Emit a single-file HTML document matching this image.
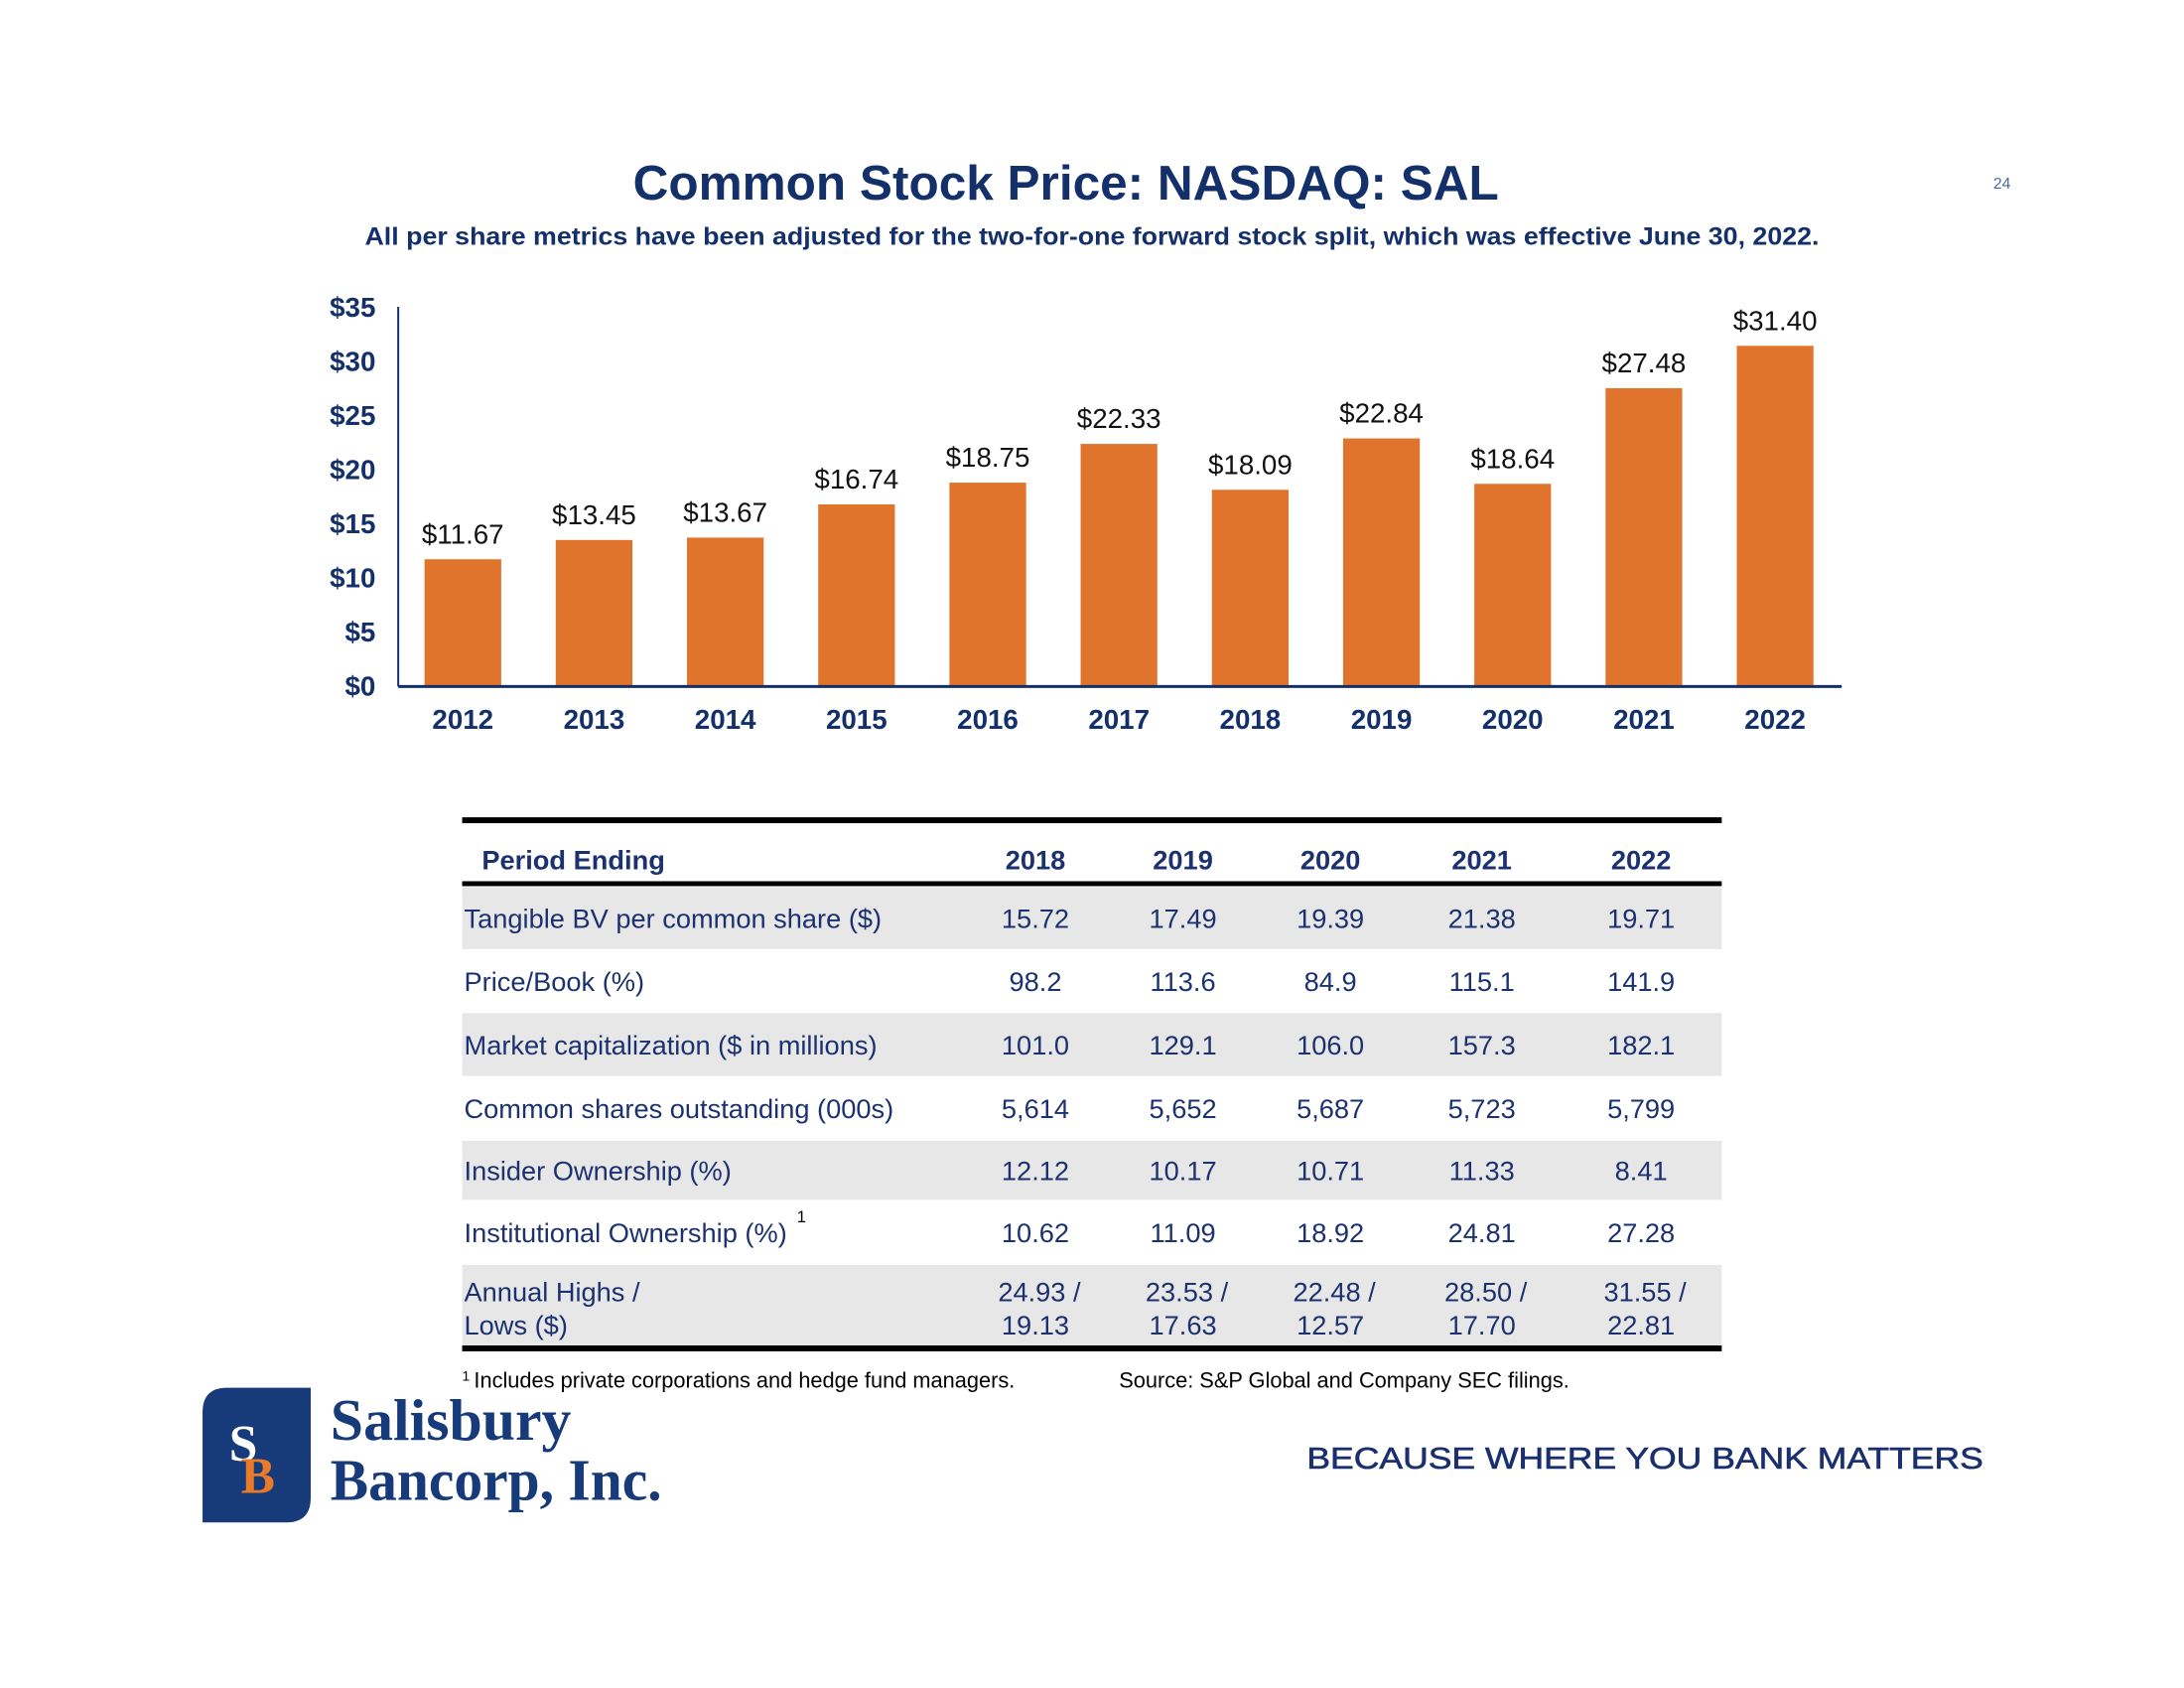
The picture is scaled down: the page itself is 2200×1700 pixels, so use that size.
<!DOCTYPE html>
<html><head><meta charset="utf-8"><style>
html,body{margin:0;padding:0;background:#fff;}
svg{display:block;font-family:"Liberation Sans",Arial,sans-serif;}
</style></head><body>
<svg id="page" width="2200" height="1700" viewBox="0 0 2200 1700">
<g transform="scale(0.9905)">
<text x="1084" y="203" text-anchor="middle" font-size="50" font-weight="bold" fill="#14306b">Common Stock Price: NASDAQ: SAL</text>
<text x="2036" y="192" text-anchor="middle" font-size="16" fill="#4a6aa8">24</text>
<text x="371" y="249" textLength="1479" lengthAdjust="spacingAndGlyphs" font-size="25" font-weight="bold" fill="#14306b">All per share metrics have been adjusted for the two-for-one forward stock split, which was effective June 30, 2022.</text>
<g id="chart"></g>
<g id="table"></g>
<text x="470" y="1404" font-size="14" fill="#000">1</text>
<text x="482" y="1411" font-size="22" fill="#000">Includes private corporations and hedge fund managers.</text>
<text x="1138" y="1411" font-size="22" fill="#000">Source: S&amp;P Global and Company SEC filings.</text>
<g transform="translate(3,13)">
<path d="M228 1398 H313 V1510 Q313 1535 288 1535 H203 V1423 Q203 1398 228 1398 Z" fill="#173a7a"/>
<text x="230" y="1472" font-family="Liberation Serif,serif" font-weight="bold" font-size="52" fill="#fff">S</text>
<text x="242" y="1505" font-family="Liberation Serif,serif" font-weight="bold" font-size="52" fill="#e87a2a">B</text>
<text x="333" y="1451" font-family="Liberation Serif,serif" font-weight="bold" font-size="60" fill="#173a7a" textLength="245" lengthAdjust="spacingAndGlyphs">Salisbury</text>
<text x="333" y="1512" font-family="Liberation Serif,serif" font-weight="bold" font-size="60" fill="#173a7a" textLength="337" lengthAdjust="spacingAndGlyphs">Bancorp, Inc.</text>
</g>
<text x="1329" y="1493" font-size="31" fill="#1a2f6e" stroke="#1a2f6e" stroke-width="0.6" textLength="688" lengthAdjust="spacingAndGlyphs">BECAUSE WHERE YOU BANK MATTERS</text>
</g>
</svg>
<script>
const years = ["2012","2013","2014","2015","2016","2017","2018","2019","2020","2021","2022"];
const prices = [11.67,13.45,13.67,16.74,18.75,22.33,18.09,22.84,18.64,27.48,31.40];
const priceLabels = ["$11.67","$13.45","$13.67","$16.74","$18.75","$22.33","$18.09","$22.84","$18.64","$27.48","$31.40"];
const yTicks = [0,5,10,15,20,25,30,35];
const tableYears = ["2018","2019","2020","2021","2022"];
const rowLabels = ["Tangible BV per common share ($)","Price/Book (%)","Market capitalization ($ in millions)","Common shares outstanding (000s)","Insider Ownership (%)","Institutional Ownership (%)"];
const rowValues = [
 ["15.72","17.49","19.39","21.38","19.71"],
 ["98.2","113.6","84.9","115.1","141.9"],
 ["101.0","129.1","106.0","157.3","182.1"],
 ["5,614","5,652","5,687","5,723","5,799"],
 ["12.12","10.17","10.71","11.33","8.41"],
 ["10.62","11.09","18.92","24.81","27.28"]];
const highs = ["24.93 /","23.53 /","22.48 /","28.50 /","31.55 /"];
const lows = ["19.13","17.63","12.57","17.70","22.81"];

const NS="http://www.w3.org/2000/svg";
function mk(tag,attrs,parent,txt){const e=document.createElementNS(NS,tag);for(const k in attrs)e.setAttribute(k,attrs[k]);if(txt!==undefined)e.textContent=txt;parent.appendChild(e);return e;}
const chart=document.getElementById('chart');
const x0=405,x1=1873,yBase=697,yTop=312,yMax=35;
const yS=v=>yBase-(v/yMax)*(yBase-yTop);
const step=(x1-x0)/years.length;
const xC=i=>x0+step*(i+0.5)-1;
const bw=78;
yTicks.forEach(t=>{
 const e=mk('text',{x:382,y:yS(t)+10,'text-anchor':'end','font-size':28,'font-weight':'bold',fill:'#14306b'},chart,'$'+t);
 
 
});
years.forEach((y,i)=>{
 const v=prices[i];
 const r=mk('rect',{x:xC(i)-bw/2,y:yS(v),width:bw,height:yBase-yS(v),fill:'#e0742c'},chart);
 
 
 const l=mk('text',{x:xC(i),y:yS(v)-16,'text-anchor':'middle','font-size':28,fill:'#111'},chart,priceLabels[i]);
 
 
 const xl=mk('text',{x:xC(i),y:741,'text-anchor':'middle','font-size':28,'font-weight':'bold',fill:'#14306b'},chart,y);
 
 
});
const ya=mk('line',{x1:x0,y1:yTop,x2:x0,y2:yBase+1,stroke:'#14306b','stroke-width':2},chart);


const xa=mk('line',{x1:x0,y1:yBase+1,x2:x1,y2:yBase+1,stroke:'#14306b','stroke-width':3},chart);



const tb=document.getElementById('table');
const tx0=470,tx1=1751;
const colX=[1053,1203,1353,1507,1669];
const rowTop=[902,965,1030,1094,1160,1220,1286];
const rowBot=[965,1030,1094,1160,1220,1286,1369];
const navy='#1c3270';
const FS=27.5;
rowTop.forEach((t,i)=>{ if(i%2===0){const r=mk('rect',{x:tx0,y:t,width:tx1-tx0,height:rowBot[i]-t,fill:'#e7e7e7'},tb);
 
 }});
[[831,6],[896,5],[1368,6]].forEach(([y,h])=>{const r=mk('rect',{x:tx0,y:y,width:tx1-tx0,height:h,fill:'#000'},tb);
 
 });
const hd=mk('text',{x:490,y:884,'font-size':FS,'font-weight':'bold',fill:navy},tb,'Period Ending');


tableYears.forEach((y,j)=>{const e=mk('text',{x:colX[j],y:884,'text-anchor':'middle','font-size':FS,'font-weight':'bold',fill:navy},tb,y);
 
 });
let lastLabel=null;
rowLabels.forEach((lab,i)=>{
 const cy=(rowTop[i]+rowBot[i])/2+10;
 const e=mk('text',{x:472,y:cy,'font-size':FS,fill:navy},tb,lab);
 
 
 lastLabel=e;
 rowValues[i].forEach((v,j)=>{const c=mk('text',{x:colX[j],y:cy,'text-anchor':'middle','font-size':FS,fill:navy},tb,v);
  
  });
});
let supX=808;
try{supX=472+lastLabel.getComputedTextLength()+10;}catch(e){}
const sup=mk('text',{x:supX,y:1243,'font-size':17,fill:'#000'},tb,'1');


const h1=mk('text',{x:472,y:1323,'font-size':FS,fill:navy},tb,'Annual Highs /');


const h2=mk('text',{x:472,y:1357,'font-size':FS,fill:navy},tb,'Lows ($)');


tableYears.forEach((y,j)=>{
 const a=mk('text',{x:colX[j]+4,y:1323,'text-anchor':'middle','font-size':FS,fill:navy},tb,highs[j]);
 
 
 const b=mk('text',{x:colX[j],y:1357,'text-anchor':'middle','font-size':FS,fill:navy},tb,lows[j]);
 
 
});
</script>
</body></html>
